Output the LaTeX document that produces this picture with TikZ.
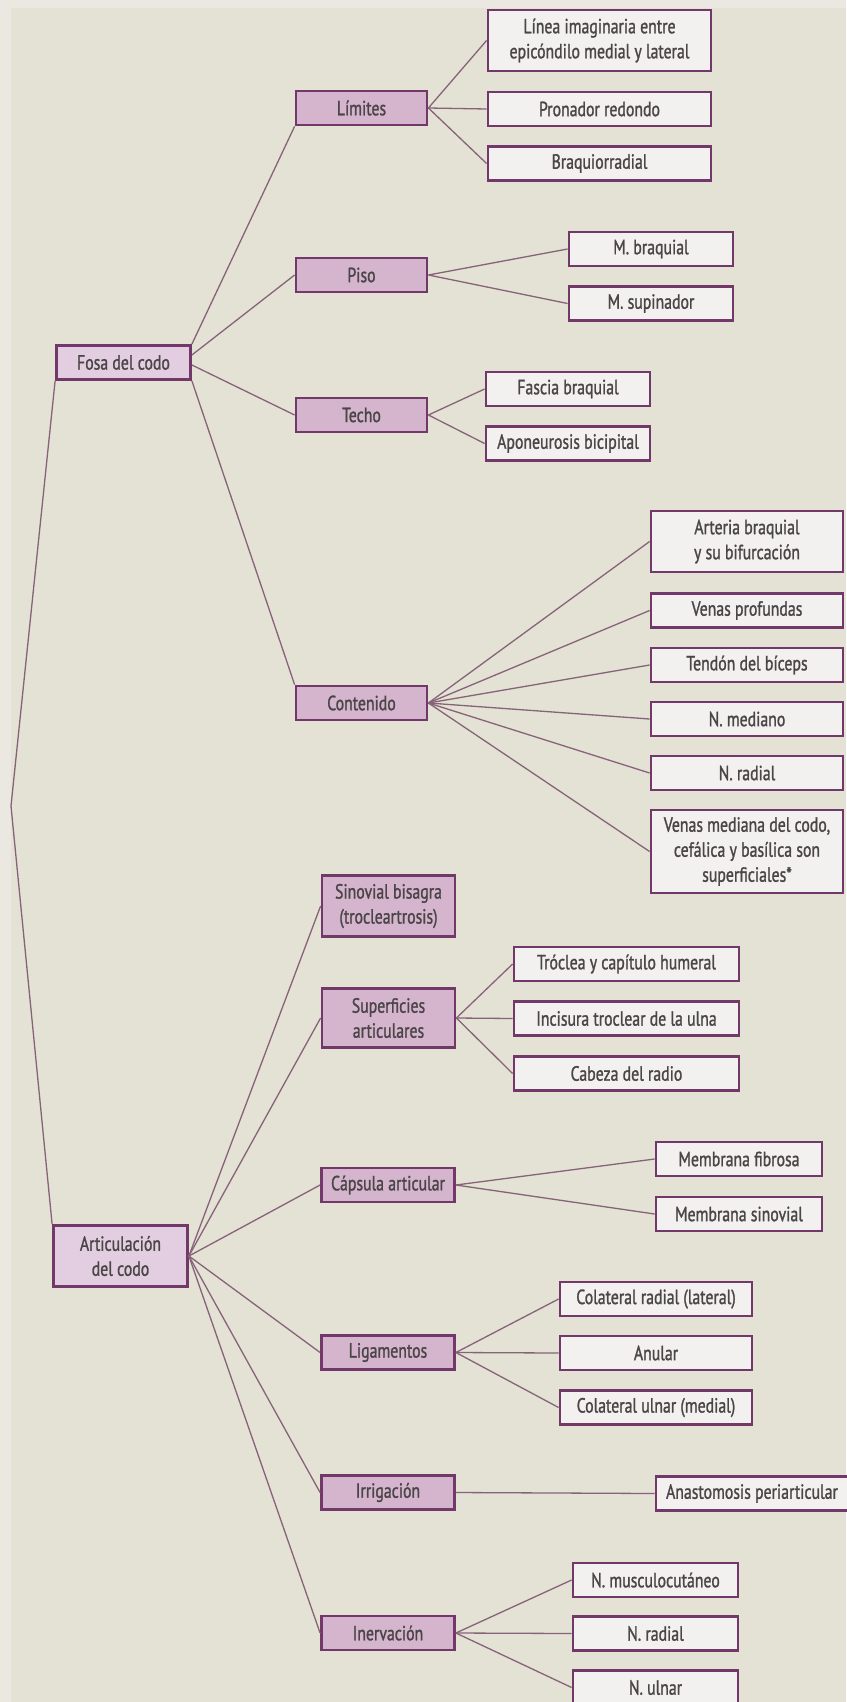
\documentclass[tikz,border=0pt]{standalone}
\usepackage{fontspec}
\setmainfont[FakeStretch=0.77,FakeBold=1.2]{PT Sans}
\definecolor{paper}{HTML}{E4E1D5}
\definecolor{paperedge}{HTML}{EAE8E0}
\definecolor{frame}{HTML}{73386A}
\definecolor{rootfill}{HTML}{E3CDE0}
\definecolor{secfill}{HTML}{D5B4CE}
\definecolor{leaffill}{HTML}{F2F1EF}
\definecolor{ink}{HTML}{4A4546}
\definecolor{wire}{HTML}{87637A}
\tikzset{
  box/.style={draw=frame, line width=2.8pt, rectangle, inner sep=2pt, align=center,
    text=ink, font=\fontsize{20.5}{25}\selectfont},
  rootbox/.style={box, fill=rootfill, minimum width=134, minimum height=#1},
  rootbox/.default=34,
  secbox/.style={box, fill=secfill, minimum width=131, minimum height=#1},
  secbox/.default=34,
  leafbox/.style={box, fill=leaffill, minimum width=#1, minimum height=34},
  tallleaf/.style={box, fill=leaffill, minimum width=#1},
  wire/.style={draw=wire, line width=1.3pt}
}
\begin{document}
\begin{tikzpicture}[x=1pt,y=-1pt]
\useasboundingbox (0,0) rectangle (846,1702);
\fill[paper] (0,0) rectangle (846,1702);
\fill[paperedge] (0,0) rectangle (11,1702);
\fill[paperedge] (0,0) rectangle (846,8);

% first level
\node[rootbox] (fosa) at (123.5,362.5) {Fosa del codo};
\node[rootbox=61] (artic) at (120.5,1256) {Articulación\\del codo};

% Fosa del codo: sections
\node[secbox] (limites) at (361.5,108) {Límites};
\node[secbox] (piso) at (361.5,275) {Piso};
\node[secbox] (techo) at (361.5,415) {Techo};
\node[secbox] (contenido) at (361.5,703) {Contenido};

% Articulación del codo: sections
\node[secbox=61, minimum width=133] (sinovial) at (388.5,906) {Sinovial bisagra\\(trocleartrosis)};
\node[secbox=59, minimum width=133] (superf) at (388.5,1018) {Superficies\\articulares};
\node[secbox, minimum width=133] (capsula) at (388,1185) {Cápsula articular};
\node[secbox, minimum width=133] (ligam) at (388,1352.5) {Ligamentos};
\node[secbox, minimum width=133] (irrig) at (388,1492.5) {Irrigación};
\node[secbox, minimum width=133] (inerv) at (388,1633) {Inervación};

% Límites
\node[tallleaf=223, minimum height=61] (linea) at (599.5,40.5) {Línea imaginaria entre\\epicóndilo medial y lateral};
\node[leafbox=223] (pronador) at (599.5,109) {Pronador redondo};
\node[leafbox=223] (braquio) at (599.5,163.5) {Braquiorradial};

% Piso
\node[leafbox=164] (mbraq) at (651,249) {M. braquial};
\node[leafbox=164] (msupin) at (651,303.5) {M. supinador};

% Techo
\node[leafbox=164] (fascia) at (568,389) {Fascia braquial};
\node[leafbox=164] (aponeu) at (568,443.5) {Aponeurosis bicipital};

% Contenido
\node[tallleaf=192, minimum height=61] (arteria) at (747,541.5) {Arteria braquial\\y su bifurcación};
\node[leafbox=192] (venasp) at (747,610.5) {Venas profundas};
\node[leafbox=192] (tendon) at (747,665) {Tendón del bíceps};
\node[leafbox=192] (mediano) at (747,719) {N. mediano};
\node[leafbox=192] (radialc) at (747,773) {N. radial};
\node[tallleaf=192, minimum height=83] (venasm) at (747,851.5) {Venas mediana del codo,\\cefálica y basílica son\\superficiales*};

% Superficies articulares
\node[leafbox=225] (troclea) at (626.5,964) {Tróclea y capítulo humeral};
\node[leafbox=225] (incisura) at (626.5,1018.5) {Incisura troclear de la ulna};
\node[leafbox=225] (cabeza) at (626.5,1073.5) {Cabeza del radio};

% Cápsula articular
\node[leafbox=166] (mfibrosa) at (739,1159) {Membrana fibrosa};
\node[leafbox=166] (msinov) at (739,1214) {Membrana sinovial};

% Ligamentos
\node[leafbox=192] (colrad) at (656,1299) {Colateral radial (lateral)};
\node[leafbox=192] (anular) at (656,1353) {Anular};
\node[leafbox=192] (coluln) at (656,1407.5) {Colateral ulnar (medial)};

% Irrigación
\node[leafbox=192] (anast) at (752,1493.5) {Anastomosis periarticular};

% Inervación
\node[leafbox=165] (nmusc) at (655.5,1580) {N. musculocutáneo};
\node[leafbox=165] (radiali) at (655.5,1633.5) {N. radial};
\node[leafbox=165] (nulnar) at (655.5,1687.5) {N. ulnar};

% connectors
\coordinate (bend) at (11,806);
\draw[wire] (fosa.south west) -- (bend) -- (artic.north west);

\draw[wire] (fosa.north east) -- (limites.south west);
\draw[wire] ([yshift=7.5pt]fosa.east) -- (piso.west);
\draw[wire] ([yshift=-2.5pt]fosa.east) -- (techo.west);
\draw[wire] (fosa.south east) -- (contenido.north west);

\foreach \c in {linea,pronador,braquio} \draw[wire] (limites.east) -- (\c.west);
\foreach \c in {mbraq,msupin} \draw[wire] (piso.east) -- (\c.west);
\foreach \c in {fascia,aponeu} \draw[wire] (techo.east) -- (\c.west);
\foreach \c in {arteria,venasp,tendon,mediano,radialc,venasm} \draw[wire] (contenido.east) -- (\c.west);

\foreach \c in {sinovial,superf,capsula,ligam,irrig,inerv} \draw[wire] (artic.east) -- (\c.west);
\foreach \c in {troclea,incisura,cabeza} \draw[wire] (superf.east) -- (\c.west);
\foreach \c in {mfibrosa,msinov} \draw[wire] (capsula.east) -- (\c.west);
\foreach \c in {colrad,anular,coluln} \draw[wire] (ligam.east) -- (\c.west);
\draw[wire] (irrig.east) -- (anast.west);
\foreach \c in {nmusc,radiali,nulnar} \draw[wire] (inerv.east) -- (\c.west);
\end{tikzpicture}
\end{document}
